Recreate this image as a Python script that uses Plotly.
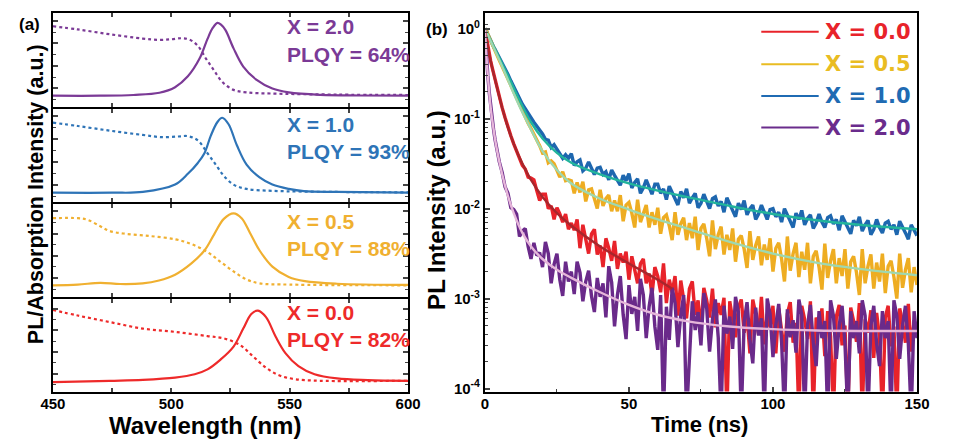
import numpy as np
import plotly.graph_objects as go

W, H = 965, 441

# ---------------- (a) steady-state spectra (normalised, PL peak = 1) ----------------
wl_pl_20 = [450, 470, 484, 495, 501.6, 507, 512, 515.3, 517.5, 519.5, 521, 522.9, 526.3, 530.4, 535.9, 542.7, 549.6, 563, 580, 600]
pl_20 = [0, 0.0, 0.01, 0.04, 0.117, 0.266, 0.513, 0.78, 0.93, 1.0, 0.975, 0.90, 0.65, 0.40, 0.22, 0.098, 0.045, 0.012, 0.003, 0]
wl_abs_20 = [450, 460.5, 474.2, 487.9, 494.8, 500, 504.4, 507.8, 511.2, 514.7, 518, 521.5, 526.3, 531.8, 542, 570, 600]
abs_20 = [0.954, 0.91, 0.843, 0.785, 0.766, 0.775, 0.789, 0.77, 0.686, 0.507, 0.35, 0.19, 0.08, 0.045, 0.03, 0.015, 0.01]

wl_pl_10 = [450, 475, 488, 501.6, 507.1, 511.2, 514, 516.7, 519.5, 521.5, 524.2, 527.7, 531.8, 537.3, 542.7, 549.6, 556, 570, 600]
pl_10 = [0, 0, 0.01, 0.108, 0.255, 0.397, 0.526, 0.762, 0.943, 1.0, 0.913, 0.633, 0.375, 0.203, 0.108, 0.05, 0.02, 0.01, 0]
wl_abs_10 = [450, 460.5, 474.2, 487.9, 496, 503, 507.1, 511.2, 515.3, 518.8, 522.2, 526.3, 531.8, 542.7, 570, 600]
abs_10 = [0.935, 0.89, 0.827, 0.771, 0.741, 0.75, 0.754, 0.698, 0.526, 0.375, 0.225, 0.108, 0.05, 0.025, 0.01, 0.005]

wl_pl_05 = [450, 460.5, 470, 478.4, 487.9, 494.8, 501.6, 508.5, 514, 518.1, 522.2, 526.3, 529.7, 533.2, 537.3, 542.7, 549.6, 556.4, 570, 600]
pl_05 = [0, 0.01, 0.035, 0.018, 0.027, 0.067, 0.148, 0.305, 0.484, 0.709, 0.924, 1.0, 0.933, 0.731, 0.484, 0.26, 0.116, 0.058, 0.022, 0.005]
wl_abs_05 = [450, 460.5, 464.7, 470, 474, 479.7, 490.7, 501.6, 508.5, 515.3, 520.8, 526.3, 531.8, 537.3, 550, 600]
abs_05 = [0.933, 0.933, 0.91, 0.82, 0.754, 0.72, 0.686, 0.64, 0.573, 0.462, 0.327, 0.193, 0.081, 0.027, 0.01, 0]

wl_pl_00 = [450, 474, 488, 501.6, 509.9, 515.3, 520.8, 526.3, 530.4, 533.8, 536.6, 540, 544.1, 548.2, 553.7, 560.5, 570, 583, 600]
pl_00 = [-0.02, 0, 0.014, 0.046, 0.093, 0.163, 0.302, 0.488, 0.744, 0.953, 1.0, 0.907, 0.628, 0.395, 0.209, 0.093, 0.033, 0.01, 0]
wl_abs_00 = [450, 460.5, 474, 488, 501.6, 515.3, 522.2, 529, 534.5, 540, 545.5, 552.3, 563, 600]
abs_00 = [1.009, 0.93, 0.837, 0.744, 0.697, 0.637, 0.604, 0.511, 0.349, 0.186, 0.079, 0.023, 0, 0]

labels_x = ["X = 2.0", "X = 1.0", "X = 0.5", "X = 0.0"]
labels_plqy = ["PLQY = 64%", "PLQY = 93%", "PLQY = 88%", "PLQY = 82%"]
colors_a = ["#7B3A96", "#2E74B7", "#F0B030", "#EE2A2A"]
y_ranges_a = [[-0.152, 1.138], [-0.120, 1.120], [-0.157, 1.135], [-0.167, 1.172]]

# ---------------- (b) time-resolved PL decays (log10 of normalised counts) ----------------
t_ns = [0, 0.5, 1, 1.5, 2, 2.5, 3, 3.5, 4] + list(range(5, 151))

log_pl_10 = [0.0, -0.02, -0.06, -0.10, -0.13, -0.16, -0.20, -0.23, -0.26,
    -0.32, -0.39, -0.45, -0.51, -0.58, -0.65, -0.71, -0.78, -0.84, -0.89,
    -0.95, -0.99, -1.04, -1.08, -1.12, -1.17, -1.23, -1.24, -1.32, -1.29,
    -1.34, -1.39, -1.44, -1.40, -1.44, -1.39, -1.52, -1.48, -1.46, -1.58,
    -1.55, -1.48, -1.56, -1.62, -1.55, -1.54, -1.62, -1.59, -1.68, -1.57,
    -1.63, -1.69, -1.74, -1.63, -1.69, -1.61, -1.77, -1.71, -1.67, -1.83,
    -1.77, -1.68, -1.76, -1.84, -1.73, -1.73, -1.83, -1.78, -1.90, -1.75,
    -1.82, -1.89, -1.96, -1.81, -1.88, -1.78, -1.94, -1.88, -1.83, -1.99,
    -1.94, -1.84, -1.93, -2.00, -1.89, -1.87, -1.97, -1.92, -2.04, -1.88,
    -1.95, -2.02, -2.09, -1.94, -2.01, -1.91, -2.07, -2.00, -1.96, -2.12,
    -2.06, -1.96, -2.05, -2.12, -2.01, -2.00, -2.09, -2.04, -2.15, -2.00,
    -2.07, -2.14, -2.21, -2.05, -2.12, -2.02, -2.18, -2.11, -2.07, -2.22,
    -2.16, -2.06, -2.15, -2.21, -2.10, -2.08, -2.17, -2.12, -2.24, -2.08,
    -2.15, -2.22, -2.28, -2.13, -2.19, -2.09, -2.25, -2.18, -2.13, -2.29,
    -2.23, -2.12, -2.21, -2.27, -2.16, -2.14, -2.23, -2.18, -2.29, -2.14,
    -2.20, -2.27, -2.34, -2.18, -2.24, -2.30]

log_pl_05 = [0.0, -0.02, -0.06, -0.10, -0.14, -0.17, -0.21, -0.25, -0.28,
    -0.35, -0.42, -0.49, -0.57, -0.64, -0.72, -0.78, -0.86, -0.92, -0.99,
    -1.05, -1.11, -1.17, -1.22, -1.30, -1.38, -1.37, -1.49, -1.47, -1.50,
    -1.58, -1.65, -1.59, -1.69, -1.68, -1.69, -1.83, -1.71, -1.82, -1.70,
    -1.92, -1.79, -1.78, -1.88, -2.00, -1.79, -1.97, -1.89, -1.85, -2.03,
    -1.91, -2.03, -1.85, -2.14, -1.96, -1.93, -2.05, -2.21, -1.90, -2.15,
    -2.04, -1.96, -2.21, -2.04, -2.18, -1.99, -2.28, -2.10, -2.07, -2.19,
    -2.35, -2.04, -2.29, -2.17, -2.10, -2.35, -2.16, -2.33, -2.09, -2.46,
    -2.22, -2.17, -2.33, -2.53, -2.13, -2.45, -2.29, -2.20, -2.51, -2.29,
    -2.46, -2.22, -2.59, -2.34, -2.30, -2.45, -2.66, -2.25, -2.57, -2.41,
    -2.31, -2.63, -2.40, -2.57, -2.33, -2.70, -2.44, -2.38, -2.56, -2.81,
    -2.31, -2.69, -2.50, -2.38, -2.76, -2.48, -2.68, -2.38, -2.83, -2.53,
    -2.47, -2.65, -2.90, -2.39, -2.77, -2.58, -2.45, -2.83, -2.55, -2.75,
    -2.45, -2.89, -2.59, -2.53, -2.71, -2.96, -2.45, -2.83, -2.64, -2.51,
    -2.89, -2.60, -2.81, -2.50, -2.94, -2.64, -2.58, -2.76, -3.00, -2.50,
    -2.88, -2.68, -2.55, -2.93, -2.65, -2.85]

log_pl_00 = [0.0, -0.10, -0.20, -0.28, -0.36, -0.43, -0.50, -0.57, -0.63,
    -0.76, -0.88, -0.99, -1.10, -1.19, -1.28, -1.36, -1.42, -1.52, -1.56,
    -1.65, -1.66, -1.68, -1.80, -1.91, -1.84, -1.84, -2.00, -1.97, -2.12,
    -1.99, -2.06, -2.15, -2.06, -2.23, -2.16, -2.24, -2.12, -2.44, -2.18,
    -2.36, -2.50, -2.28, -2.23, -2.51, -2.41, -2.65, -2.33, -2.44, -2.58,
    -2.36, -2.67, -2.50, -2.60, -2.48, -2.79, -2.53, -2.70, -2.83, -2.61,
    -2.56, -2.83, -2.72, -2.96, -2.65, -2.75, -2.93, -2.61, -3.05, -2.79,
    -2.93, -2.75, -3.19, -2.80, -3.04, -3.22, -2.89, -2.81, -3.18, -3.02,
    -3.35, -2.88, -3.02, -3.21, -2.89, -3.32, -3.05, -3.18, -2.99, -4.30,
    -3.03, -3.26, -3.43, -3.10, -3.01, -3.38, -3.20, -3.61, -3.01, -3.17,
    -3.40, -2.98, -3.51, -3.17, -3.32, -3.08, -3.61, -3.11, -3.39, -3.59,
    -3.17, -3.04, -3.49, -3.27, -4.30, -3.08, -3.23, -3.45, -3.03, -4.30,
    -3.21, -3.36, -3.11, -3.64, -3.14, -3.42, -4.30, -3.20, -3.07, -3.52,
    -3.30, -4.30, -3.10, -3.25, -3.48, -3.05, -4.30, -3.23, -3.38, -3.13,
    -3.66, -3.16, -3.43, -4.30, -3.21, -3.08, -3.53, -3.31, -4.30, -3.11,
    -3.26, -3.49, -3.06, -3.59, -3.24, -3.39]

log_pl_20 = [0.0, -0.30, -0.52, -0.71, -0.88, -1.01, -1.12, -1.23, -1.32,
    -1.48, -1.60, -1.76, -1.83, -1.99, -2.01, -2.06, -2.31, -2.25, -2.22,
    -2.42, -2.56, -2.38, -2.52, -2.49, -2.65, -2.37, -2.50, -2.83, -2.62,
    -2.50, -2.79, -2.97, -2.59, -2.81, -2.70, -2.95, -2.59, -2.71, -3.03,
    -2.81, -2.69, -2.97, -3.15, -2.77, -2.98, -2.83, -3.21, -2.64, -2.82,
    -3.31, -2.96, -2.75, -3.18, -3.45, -2.85, -3.17, -2.98, -3.36, -2.78,
    -2.96, -3.44, -3.09, -2.88, -3.31, -3.57, -2.96, -4.30, -3.09, -3.46,
    -2.88, -3.05, -3.54, -3.18, -2.96, -4.30, -3.65, -3.03, -3.35, -3.15,
    -3.52, -2.94, -3.11, -3.59, -3.23, -3.01, -3.43, -4.30, -3.08, -3.39,
    -3.20, -3.56, -2.98, -3.15, -4.30, -3.26, -3.04, -3.46, -3.72, -3.10,
    -3.41, -3.22, -4.30, -3.00, -3.17, -3.65, -3.29, -3.06, -3.48, -4.30,
    -3.12, -3.43, -3.24, -3.60, -3.01, -3.18, -4.30, -3.30, -3.07, -3.49,
    -3.75, -3.14, -3.44, -3.25, -4.30, -3.02, -3.19, -3.67, -3.30, -3.08,
    -3.50, -4.30, -3.14, -3.44, -3.25, -3.61, -3.02, -3.19, -4.30, -3.30,
    -3.08, -3.50, -3.75, -3.14, -3.44, -3.25, -4.30, -3.02, -3.19, -3.67,
    -3.30, -3.08, -3.50, -4.30, -3.14, -3.44]

# multi-exponential fits (log10)
fit_t_10 = [0, 2, 4, 6, 8, 10, 13, 16, 20, 25, 30, 40, 50, 60, 70, 85, 100, 115, 130, 150]
fit_10 = [0, -0.13, -0.26, -0.39, -0.52, -0.66, -0.86, -1.04, -1.22, -1.38, -1.49, -1.62, -1.72, -1.80, -1.87, -1.97, -2.06, -2.13, -2.18, -2.23]
fit_t_05 = fit_t_10
fit_05 = [0, -0.14, -0.28, -0.42, -0.57, -0.72, -0.93, -1.12, -1.36, -1.57, -1.72, -1.89, -2.01, -2.12, -2.22, -2.37, -2.50, -2.60, -2.67, -2.74]
fit_t_00 = [0, 1, 2, 3, 4, 6, 8, 10, 13, 16, 20, 25, 30, 40, 50, 60, 65]
fit_00 = [0, -0.2, -0.36, -0.5, -0.63, -0.88, -1.10, -1.28, -1.50, -1.68, -1.87, -2.05, -2.19, -2.42, -2.61, -2.79, -2.89]
fit_t_20 = [0, 0.5, 1, 2, 3, 4, 6, 8, 10, 13, 16, 20, 25, 30, 40, 50, 60, 70, 85, 100, 115, 130, 150]
fit_20 = [0, -0.3, -0.52, -0.88, -1.12, -1.32, -1.62, -1.86, -2.05, -2.27, -2.42, -2.56, -2.68, -2.77, -2.93, -3.07, -3.18, -3.25, -3.31, -3.34, -3.355, -3.36, -3.36]

legend_labels = ["X = 0.0", "X = 0.5", "X = 1.0", "X = 2.0"]
legend_colors = ["#E8232A", "#E9BC22", "#1F6BB3", "#6A2C8C"]
data_colors = {"00": "#E8232A", "05": "#EEAD22", "10": "#1E67AF", "20": "#6A2A8A"}
fit_colors = {"00": "#A8262C", "05": "#9ED8B0", "10": "#22B49C", "20": "#E6B6DA"}

y_ticks_b = [1e-4, 1e-3, 1e-2, 1e-1, 1]
y_ticktext_b = ["10<sup>-4</sup>", "10<sup>-3</sup>", "10<sup>-2</sup>", "10<sup>-1</sup>", "10<sup>0</sup>"]

# ---------------- geometry helpers (pixels -> paper) ----------------
def px(x):
    return x / W


def py(y):
    return 1 - y / H


FONT = "Liberation Sans"
# pixel extents of the four stacked spectrum rows (shared borders overlap)
row_tops = [13, 110, 206, 302]
row_bots = [108, 204, 300, 397]

fig = go.Figure()

spectra = [(wl_pl_20, pl_20, wl_abs_20, abs_20),
           (wl_pl_10, pl_10, wl_abs_10, abs_10),
           (wl_pl_05, pl_05, wl_abs_05, abs_05),
           (wl_pl_00, pl_00, wl_abs_00, abs_00)]

for i, (wp, vp, wa, va) in enumerate(spectra):
    xa, ya = f"x{i + 1}", f"y{i + 1}"
    fig.add_trace(go.Scatter(x=wa, y=va, mode="lines", line=dict(color=colors_a[i], width=2.2, dash="dot", shape="spline"),
                             xaxis=xa, yaxis=ya, showlegend=False, hoverinfo="skip"))
    fig.add_trace(go.Scatter(x=wp, y=vp, mode="lines", line=dict(color=colors_a[i], width=2.2, shape="spline"),
                             xaxis=xa, yaxis=ya, showlegend=False, hoverinfo="skip"))

decays = [("10", log_pl_10), ("05", log_pl_05), ("00", log_pl_00), ("20", log_pl_20)]
for key, vals in decays:
    fig.add_trace(go.Scatter(x=t_ns, y=np.power(10.0, vals), mode="lines",
                             line=dict(color=data_colors[key], width=3.4),
                             xaxis="x5", yaxis="y5", showlegend=False, hoverinfo="skip"))

fits = [("10", fit_t_10, fit_10), ("05", fit_t_05, fit_05), ("00", fit_t_00, fit_00), ("20", fit_t_20, fit_20)]
for key, ft, fv in fits:
    fig.add_trace(go.Scatter(x=ft, y=np.power(10.0, fv), mode="lines",
                             line=dict(color=fit_colors[key], width=2.4, shape="spline"),
                             xaxis="x5", yaxis="y5", showlegend=False, hoverinfo="skip"))

layout = dict(
    width=W, height=H, margin=dict(l=0, r=0, t=0, b=0),
    paper_bgcolor="white", plot_bgcolor="white",
    font=dict(family=FONT, size=15, color="black", weight="bold"),
    showlegend=False,
)

xa_vals = [450, 475, 500, 525, 550, 575, 600]
xa_text = ["450", "", "500", "", "550", "", "600"]
for i in range(4):
    layout[f"xaxis{i + 1}"] = dict(
        domain=[px(41), px(406)], anchor=f"y{i + 1}", range=[450, 600],
        tickmode="array", tickvals=xa_vals, ticktext=xa_text,
        showticklabels=(i == 3), ticks="inside", ticklen=4, tickwidth=1.5,
        ticklabelstandoff=-3,
        showline=True, linewidth=2, linecolor="black", mirror="allticks",
        showgrid=False, zeroline=False,
        tickfont=dict(family=FONT, size=15, weight="bold"),
        matches=None if i == 0 else "x1",
    )
    layout[f"yaxis{i + 1}"] = dict(
        domain=[py(row_bots[i]), py(row_tops[i])], anchor=f"x{i + 1}", range=y_ranges_a[i],
        tick0=0.1, dtick=0.31, showticklabels=False, ticks="inside", ticklen=5, tickwidth=1.5,
        minor=dict(ticks="inside", ticklen=3, tickwidth=1.2, dtick=0.155, tick0=0.1),
        showline=True, linewidth=2, linecolor="black", mirror="allticks",
        showgrid=False, zeroline=False,
    )

minor_log = []
for dec in [1e-4, 1e-3, 1e-2, 1e-1]:
    minor_log += [k * dec for k in range(2, 10)]
minor_log += [1.1]

layout["xaxis5"] = dict(
    domain=[px(485), px(929)], anchor="y5", range=[0, 150],
    tickmode="array", tickvals=[0, 50, 100, 150],
    ticks="inside", ticklen=5, tickwidth=1.5, ticklabelstandoff=-3,
    minor=dict(ticks="inside", ticklen=3, tickwidth=1.2, tickmode="array", tickvals=[25, 75, 125]),
    showline=True, linewidth=2, linecolor="black", mirror=True,
    showgrid=False, zeroline=False,
    tickfont=dict(family=FONT, size=15, weight="bold"),
)
layout["yaxis5"] = dict(
    domain=[py(396), py(13)], anchor="x5", type="log", range=[-4.033, 0.176],
    tickmode="array", tickvals=y_ticks_b, ticktext=y_ticktext_b,
    ticks="inside", ticklen=5, tickwidth=1.5,
    minor=dict(ticks="inside", ticklen=3, tickwidth=1.2, tickmode="array", tickvals=minor_log),
    showline=True, linewidth=2, linecolor="black", mirror=True,
    showgrid=False, zeroline=False,
    tickfont=dict(family=FONT, size=15, weight="bold"),
)
fig.update_layout(**layout)

ann = []
# sample labels in each spectrum row
line1_y = [27, 125.7, 224, 316]
line2_y = [55, 153.3, 251, 343]
for i in range(4):
    for txt, yy in ((labels_x[i], line1_y[i]), (labels_plqy[i], line2_y[i])):
        ann.append(dict(x=px(280), y=py(yy), xref="paper", yref="paper", text=txt, showarrow=False,
                        xanchor="left", yanchor="middle",
                        font=dict(family=FONT, size=21, color=colors_a[i], weight="bold")))

# panel tags
ann.append(dict(x=px(4), y=py(25), xref="paper", yref="paper", text="(a)", showarrow=False,
                xanchor="left", yanchor="middle", font=dict(family=FONT, size=17, weight="bold")))
ann.append(dict(x=px(422), y=py(30), xref="paper", yref="paper", text="(b)", showarrow=False,
                xanchor="left", yanchor="middle", font=dict(family=FONT, size=17, weight="bold")))

# axis titles
ann.append(dict(x=px(197), y=py(430), xref="paper", yref="paper", text="Wavelength (nm)", showarrow=False,
                xanchor="center", yanchor="middle", font=dict(family=FONT, size=24, weight="bold")))
ann.append(dict(x=px(706), y=py(429), xref="paper", yref="paper", text="Time (ns)", showarrow=False,
                xanchor="center", yanchor="middle", font=dict(family=FONT, size=22, weight="bold")))
ann.append(dict(x=px(23), y=py(196), xref="paper", yref="paper", text="PL/Absorption Intensity (a.u.)",
                showarrow=False, textangle=-90, xanchor="center", yanchor="middle",
                font=dict(family=FONT, size=21.5, weight="bold")))
ann.append(dict(x=px(435), y=py(212), xref="paper", yref="paper", text="PL Intensity (a.u.)",
                showarrow=False, textangle=-90, xanchor="center", yanchor="middle",
                font=dict(family=FONT, size=24, weight="bold")))

# legend for the decay panel
legend_rows = [32, 65, 97, 129]
shapes = []
for lab, col, yy in zip(legend_labels, legend_colors, legend_rows):
    shapes.append(dict(type="line", xref="paper", yref="paper", x0=px(769), x1=px(828), y0=py(yy), y1=py(yy),
                       line=dict(color=col, width=2)))
    ann.append(dict(x=px(832), y=py(yy), xref="paper", yref="paper", text=lab, showarrow=False,
                    xanchor="left", yanchor="middle",
                    font=dict(family="DejaVu Sans", size=21, color=col, weight="bold")))

fig.update_layout(annotations=ann, shapes=shapes)
fig.write_html("out.html")
